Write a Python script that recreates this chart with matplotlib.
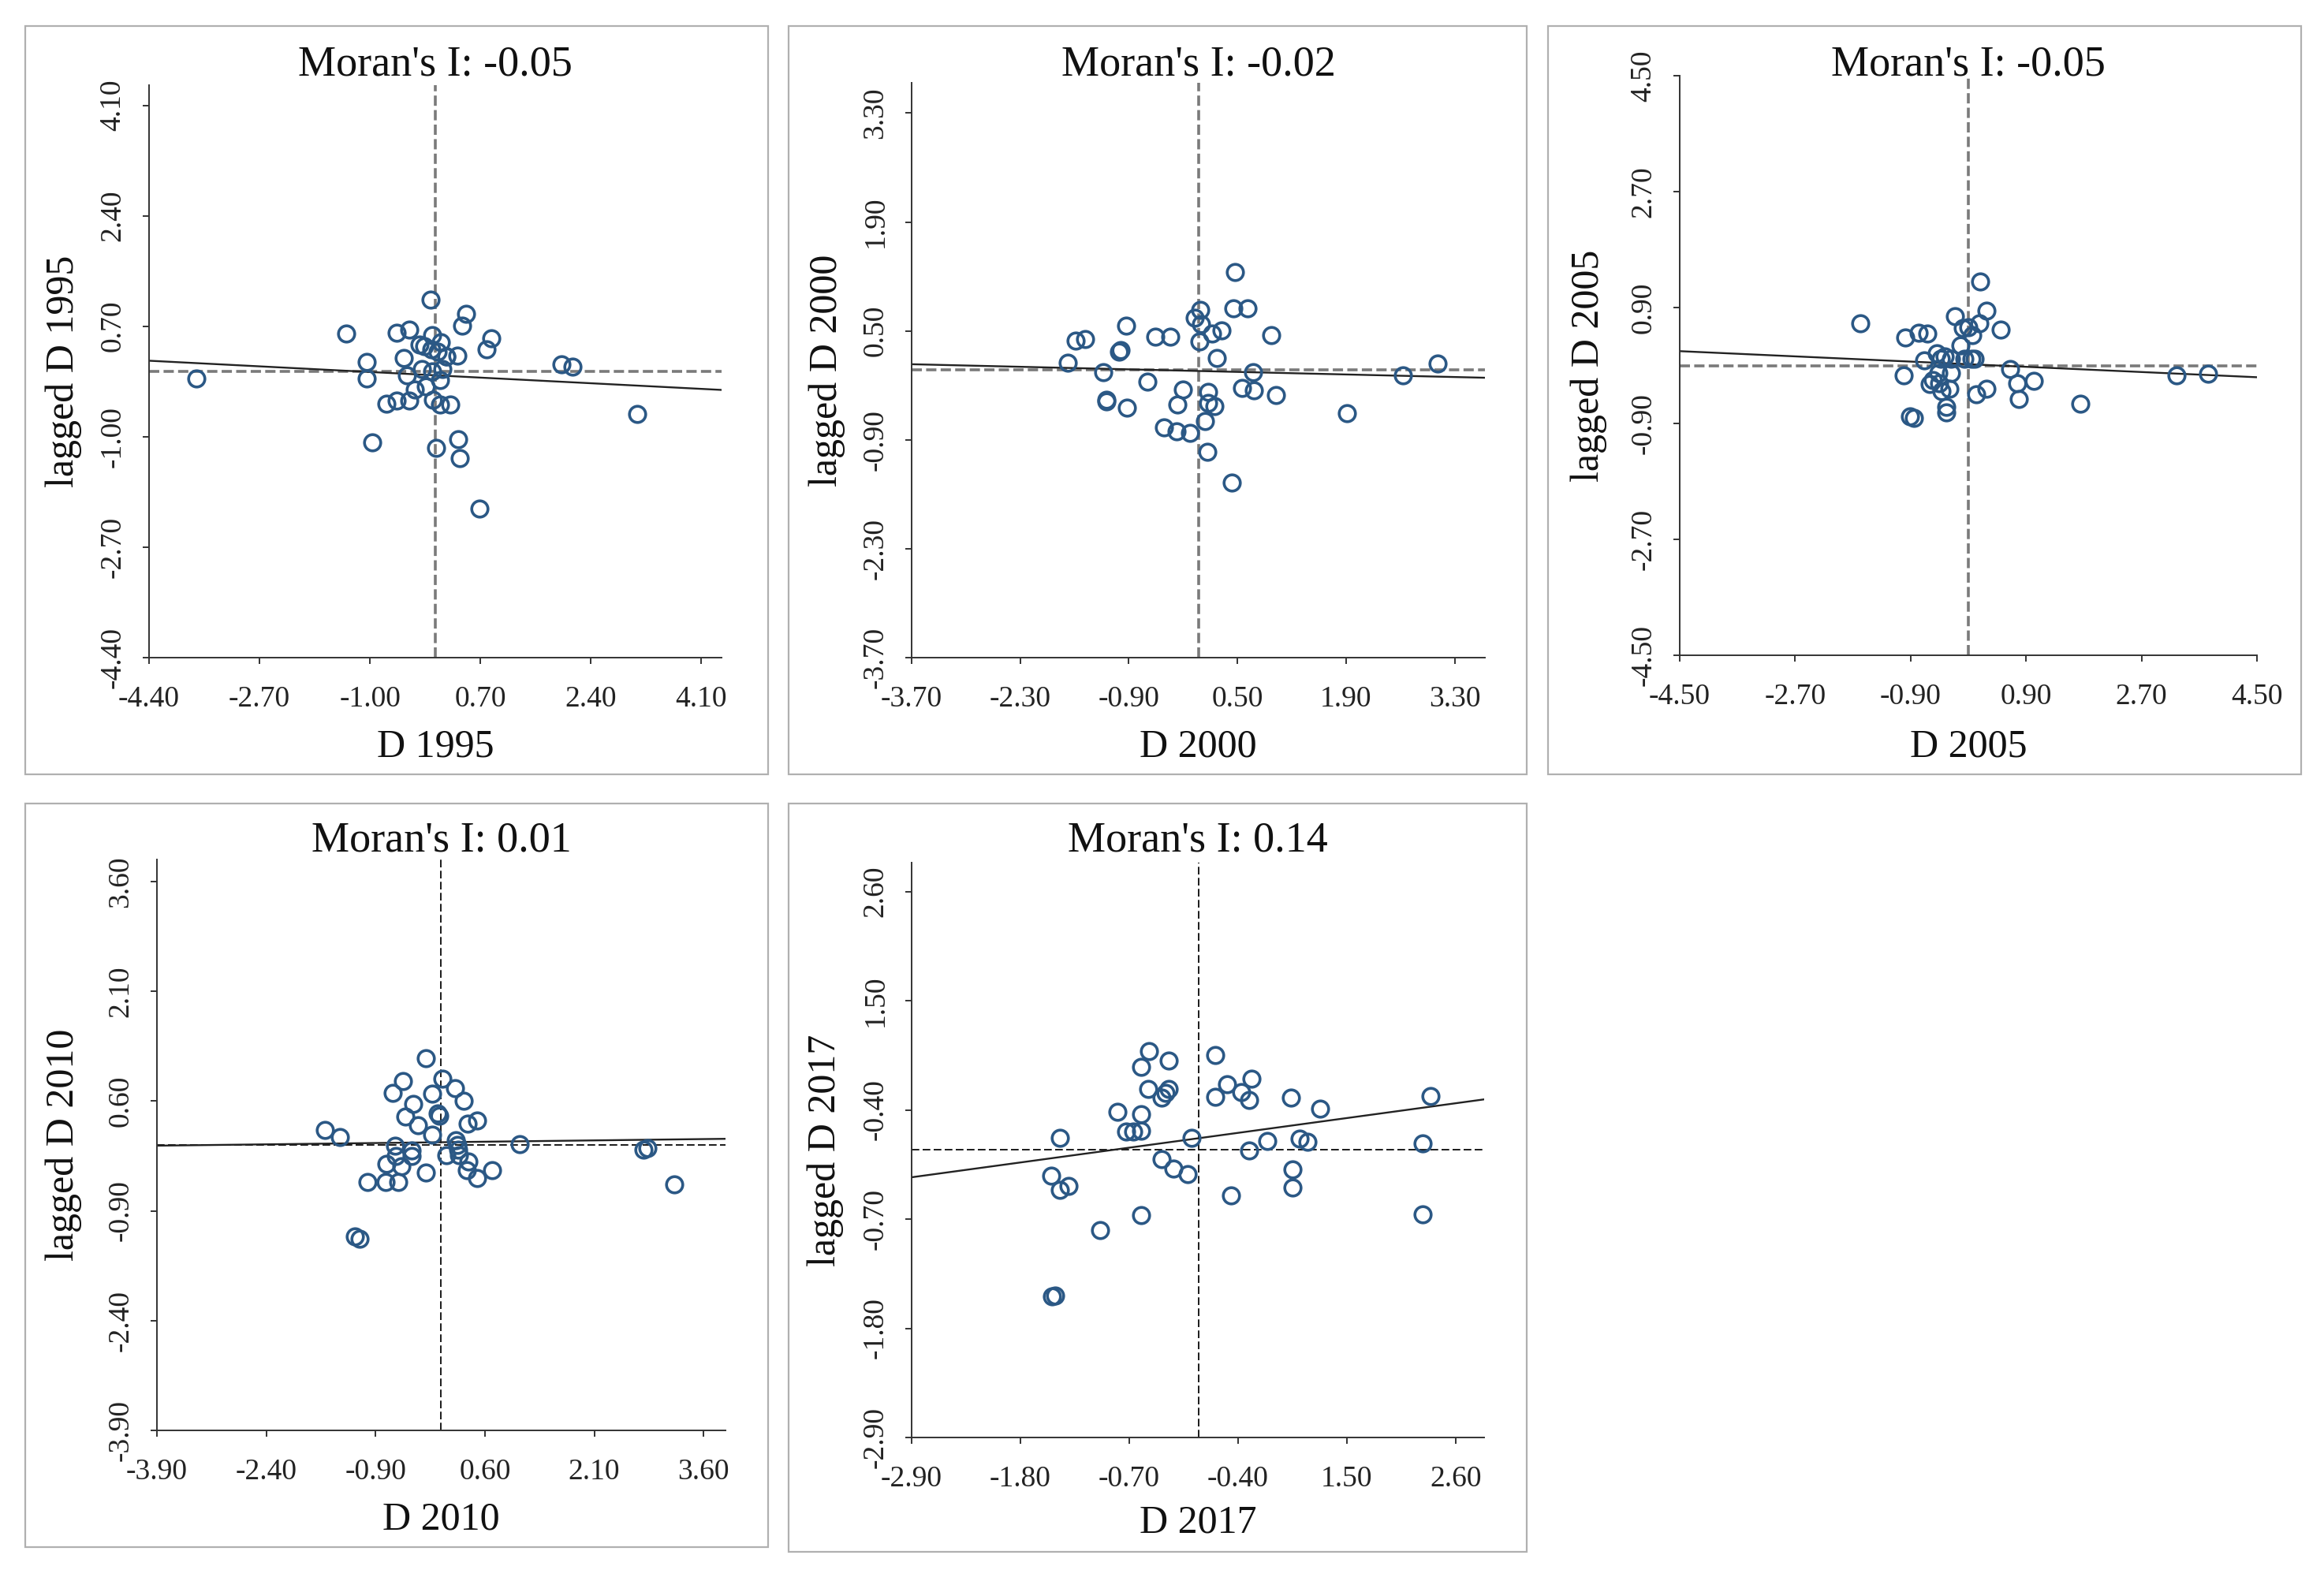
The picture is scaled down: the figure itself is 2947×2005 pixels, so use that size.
import numpy as np
import matplotlib
matplotlib.use('Agg')
import matplotlib.pyplot as plt
from matplotlib.patches import Rectangle

plt.rcParams['font.family'] = ['Liberation Serif', 'DejaVu Serif']

W, H, DPI = 2947, 2005, 200

years = ['1995', '2000', '2005', '2010', '2017']
morans_i = ['-0.05', '-0.02', '-0.05', '0.01', '0.14']

# D (standardised) and its spatial lag, one pair of lists per year
d1995 = [-3.67, -1.37, -1.05, -1.05, -0.97, -0.75, -0.59, -0.59, -0.39, -0.48, -0.43, -0.39,
         -0.31, -0.24, -0.16, -0.20, -0.14, -0.07, -0.04, -0.06, -0.04, -0.03, 0.02, 0.04,
         0.09, 0.08, 0.11, 0.08, 0.17, 0.23, 0.17, 0.35, 0.36, 0.38, 0.42, 0.48, 0.68, 0.79,
         0.87, 1.95, 2.12, 3.11]
lag1995 = [-0.10, 0.59, 0.15, -0.11, -1.09, -0.49, -0.44, 0.60, 0.65, 0.21, -0.06, -0.44,
           -0.27, 0.42, 0.39, 0.04, -0.23, 1.11, 0.56, 0.35, 0.00, -0.43, -1.17, 0.31,
           0.46, -0.13, 0.04, -0.50, 0.23, -0.51, 0.23, 0.25, -1.04, -1.33, 0.71, 0.89,
           -2.11, 0.35, 0.52, 0.11, 0.08, -0.65]

d2000 = [-1.69, -1.59, -1.46, -1.23, -1.19, -1.19, -1.03, -1.01, -0.94, -0.92, -0.66, -0.56,
         -0.37, -0.45, -0.28, -0.27, -0.20, -0.11, -0.05, 0.02, 0.03, 0.01, 0.08, 0.11,
         0.12, 0.12, 0.20, 0.17, 0.29, 0.23, 0.47, 0.45, 0.63, 0.43, 0.56, 0.70, 0.71, 0.94,
         1.00, 1.91, 2.63, 3.08]
lag2000 = [0.09, 0.38, 0.40, -0.03, -0.41, -0.39, 0.23, 0.25, 0.57, -0.49, -0.15, 0.43,
           0.43, -0.74, -0.79, -0.45, -0.25, -0.81, 0.67, 0.77, 0.59, 0.36, -0.66, -1.05,
           -0.28, -0.43, -0.47, 0.47, 0.51, 0.15, 1.26, 0.79, 0.79, -1.45, -0.23, -0.03,
           -0.26, 0.45, -0.32, -0.56, -0.07, 0.08]

d2005 = [-1.68, -0.98, -0.78, -0.64, -1.01, -0.91, -0.85, -0.69, -0.60, -0.55, -0.49, -0.43,
         -0.47, -0.45, -0.42, -0.37, -0.34, -0.34, -0.30, -0.27, -0.27, -0.21, -0.12, -0.08,
         0.00, -0.06, 0.05, 0.10, 0.06, 0.19, 0.17, 0.28, 0.12, 0.28, 0.50, 0.65, 0.76, 0.79,
         1.02, 1.75, 3.25, 3.74]
lag2005 = [0.65, 0.43, 0.51, 0.50, -0.15, -0.79, -0.82, 0.08, -0.29, -0.23, 0.19, 0.11,
           -0.12, -0.28, -0.40, 0.14, -0.64, -0.73, -0.36, -0.12, 0.10, 0.77, 0.31, 0.58,
           0.60, 0.11, 0.11, 0.10, 0.47, 1.30, 0.65, 0.85, -0.45, -0.36, 0.56, -0.05, -0.28,
           -0.52, -0.24, -0.59, -0.15, -0.13]

d2010 = [-1.60, -1.39, -1.19, -1.12, -1.01, -0.76, -0.75, -0.66, -0.63, -0.62, -0.59, -0.55,
         -0.53, -0.49, -0.41, -0.41, -0.38, -0.32, -0.21, -0.21, -0.12, -0.12, -0.05, -0.03,
         0.02, 0.07, 0.19, 0.20, 0.22, 0.23, 0.24, 0.31, 0.36, 0.37, 0.35, 0.49, 0.49, 0.70,
         1.08, 2.78, 2.83, 3.20]
lag2010 = [0.20, 0.11, -1.25, -1.28, -0.51, -0.51, -0.26, 0.71, -0.01, -0.15, -0.51, -0.29,
           0.87, 0.39, -0.08, -0.15, 0.56, 0.27, 1.19, -0.38, 0.14, 0.70, 0.43, 0.40,
           0.91, -0.14, 0.78, 0.07, 0.00, -0.07, -0.14, 0.60, 0.29, -0.23, -0.35, -0.45,
           0.33, -0.35, 0.01, -0.07, -0.04, -0.54]

d2017 = [-1.49, -1.40, -1.40, -1.31, -1.48, -1.45, -0.99, -0.82, -0.73, -0.66, -0.58, -0.58,
         -0.58, -0.58, -0.51, -0.50, -0.37, -0.37, -0.33, -0.30, -0.30, -0.25, -0.11, -0.07,
         0.17, 0.17, 0.29, 0.33, 0.43, 0.51, 0.51, 0.54, 0.70, 0.94, 0.95, 0.95, 1.02, 1.10,
         1.23, 2.27, 2.27, 2.35]
lag2017 = [-0.26, 0.12, -0.41, -0.37, -1.48, -1.47, -0.81, 0.38, 0.18, 0.18, 0.19, 0.36,
           -0.66, 0.83, 0.61, 0.99, -0.10, 0.52, 0.57, 0.61, 0.90, -0.19, -0.25, 0.12,
           0.95, 0.53, 0.66, -0.46, 0.58, 0.50, -0.01, 0.71, 0.09, 0.52, -0.20, -0.38,
           0.11, 0.08, 0.41, 0.06, -0.65, 0.54]

xs = [d1995, d2000, d2005, d2010, d2017]
ys = [lag1995, lag2000, lag2005, lag2010, lag2017]

# fitted Moran line: lag = slope * D + intercept
slopes = [-0.051, -0.0235, -0.045, 0.012, 0.1355]
intercepts = [-0.055, -0.015, 0.02, 0.037, 0.114]

ticks = [
    [-4.4, -2.7, -1.0, 0.7, 2.4, 4.1],
    [-3.7, -2.3, -0.9, 0.5, 1.9, 3.3],
    [-4.5, -2.7, -0.9, 0.9, 2.7, 4.5],
    [-3.9, -2.4, -0.9, 0.6, 2.1, 3.6],
    [-2.9, -1.8, -0.7, 0.4, 1.5, 2.6],
]
tick_labels = [
    ['-4.40', '-2.70', '-1.00', '0.70', '2.40', '4.10'],
    ['-3.70', '-2.30', '-0.90', '0.50', '1.90', '3.30'],
    ['-4.50', '-2.70', '-0.90', '0.90', '2.70', '4.50'],
    ['-3.90', '-2.40', '-0.90', '0.60', '2.10', '3.60'],
    ['-2.90', '-1.80', '-0.70', '-0.40', '1.50', '2.60'],
]
limits = [(-4.40, 4.41), (-3.70, 3.69), (-4.50, 4.50), (-3.90, 3.90), (-2.90, 2.89)]

# layout in pixels: axes (left, top, right, bottom), frame box, label positions
axes_px = [(189, 108, 915, 834), (1156, 105, 1883, 834), (2130, 96, 2862, 831),
           (199, 1090, 920, 1814), (1156, 1094, 1882, 1823)]
frame_px = [(32, 33, 974, 982), (1000, 33, 1936, 982), (1963, 33, 2918, 982),
            (32, 1019, 974, 1962), (1000, 1019, 1936, 1968)]
title_base = [96, 96, 96, 1080, 1080]
xlabel_base = [960, 960, 960, 1939, 1944]
ylabel_base = [93, 1061, 2027, 93, 1059]

dash_colors = ['#7a7a7a', '#7a7a7a', '#7a7a7a', '#1a1a1a', '#1a1a1a']
dash_widths = [1.3, 1.3, 1.3, 0.7, 0.7]
dash_styles = [(0, (3.6, 1.5)), (0, (3.6, 1.5)), (0, (3.6, 1.5)), (0, (5, 2.2)), (0, (5, 2.2))]
point_color = '#2b5885'

fig = plt.figure(figsize=(W / DPI, H / DPI), dpi=DPI)

for i in range(5):
    l, t, r, b = axes_px[i]
    ax = fig.add_axes([l / W, 1 - b / H, (r - l) / W, (b - t) / H])
    ax.set_xlim(limits[i])
    ax.set_ylim(limits[i])

    ax.axvline(0, color=dash_colors[i], lw=dash_widths[i], ls=dash_styles[i], zorder=1)
    ax.axhline(0, color=dash_colors[i], lw=dash_widths[i], ls=dash_styles[i], zorder=1)
    ax.axline((0, intercepts[i]), slope=slopes[i], color='#222222', lw=0.85, zorder=2)
    ax.plot(xs[i], ys[i], 'o', mfc='none', mec=point_color, ms=7.4, mew=1.3, zorder=3)

    ax.set_xticks(ticks[i])
    ax.set_xticklabels(tick_labels[i])
    ax.set_yticks(ticks[i])
    ax.set_yticklabels(tick_labels[i], rotation=90, va='center')
    for side in ['top', 'right']:
        ax.spines[side].set_visible(False)
    for side in ['left', 'bottom']:
        ax.spines[side].set_color('#333333')
        ax.spines[side].set_linewidth(0.7)
    ax.tick_params(axis='both', direction='out', length=2.8, width=0.7, colors='#333333',
                   labelcolor='#222222', labelsize=13.5)
    ax.tick_params(axis='x', pad=10)
    ax.tick_params(axis='y', pad=7.5)
    ax.patch.set_alpha(0)

    xc = (l + r) / 2 / W
    yc = 1 - (t + b) / 2 / H
    fig.text(xc, 1 - title_base[i] / H, "Moran's I: " + morans_i[i], ha='center',
             va='baseline', fontsize=19.5, color='#111111')
    fig.text(xc, 1 - xlabel_base[i] / H, 'D ' + years[i], ha='center', va='baseline',
             fontsize=18, color='#111111')
    fig.text(ylabel_base[i] / W, yc, 'lagged D ' + years[i], ha='center', va='baseline',
             rotation=90, rotation_mode='anchor', fontsize=18, color='#111111')

    fl, ft, fr, fb = frame_px[i]
    fig.patches.append(Rectangle((fl / W, 1 - fb / H), (fr - fl) / W, (fb - ft) / H,
                                 transform=fig.transFigure, fill=False, ec='#b0b0b0', lw=0.8))

fig.savefig('out.png', dpi=DPI, facecolor='white')
